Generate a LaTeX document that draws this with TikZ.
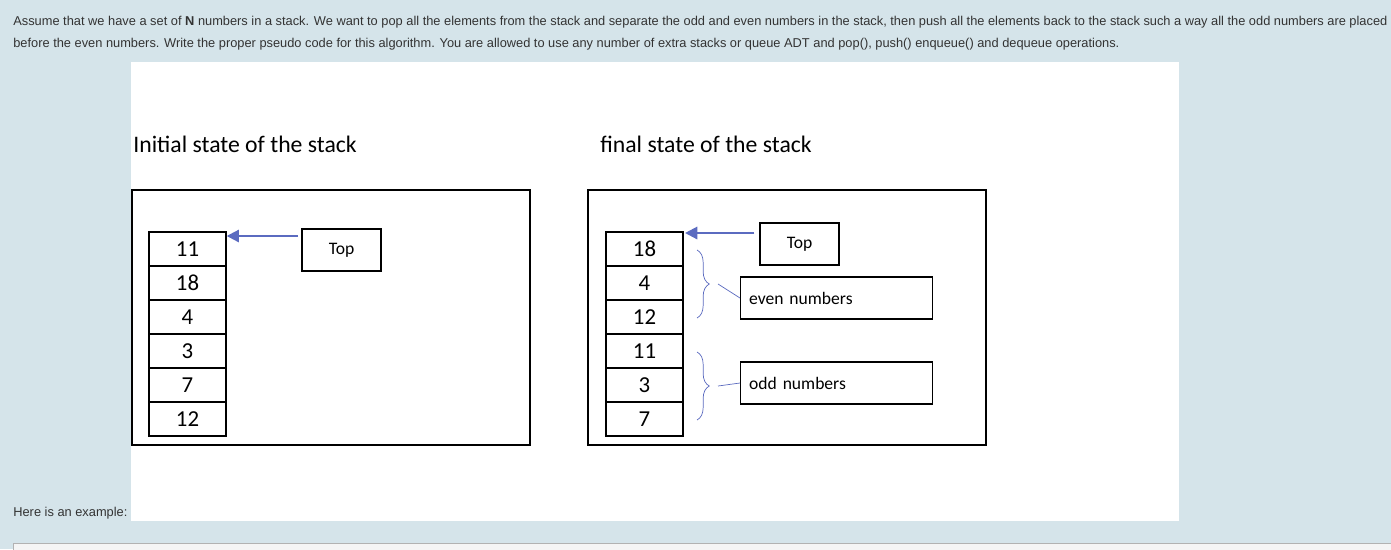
\documentclass[tikz,border=0pt]{standalone}
\usepackage{fontspec}
\setmainfont{Liberation Sans}
\newfontfamily\calib{Carlito}
\usepackage{xcolor}
\usetikzlibrary{positioning,arrows.meta,decorations.pathreplacing}
\definecolor{bgblue}{HTML}{D5E4EA}
\definecolor{txtgray}{HTML}{333333}
\definecolor{arrblue}{HTML}{5B6BC0}
\begin{document}
\begin{tikzpicture}[
  x=0.02cm, y=-0.02cm,
  >={Triangle[length=7pt,width=7pt]},
  cell/.style={draw, thick, rectangle, minimum width=1.54cm, minimum height=0.68cm, inner sep=0pt, font=\calib\fontsize{13}{14}\selectfont},
  label/.style={draw, thick, rectangle, minimum height=0.84cm, inner sep=0pt, font=\calib\fontsize{10}{12}\selectfont},
  frame/.style={draw, thick, rectangle},
  topptr/.style={->, very thick, arrblue},
  grp/.style={decorate, decoration={brace, amplitude=7pt}, arrblue, thin},
  para/.style={anchor=west, inner sep=0pt, text=txtgray, font=\fontsize{7.3}{9}\selectfont}
]
% background
\fill[bgblue] (0,0) rectangle (1391,549);
\useasboundingbox (0,0) rectangle (1391,549);
\fill[white] (131,62) rectangle (1179,521);
\draw[gray!60, fill=gray!8] (13,543) rectangle (1400,560);

% question text
\node[para] (q1) at (13,22) {Assume that we have a set of \textbf{N} numbers in a stack. We want to pop all the elements from the stack and separate the odd and even numbers in the stack, then push all the elements back to the stack such a way all the odd numbers are placed};
\node[para] (q2) at (13,44) {before the even numbers. Write the proper pseudo code for this algorithm. You are allowed to use any number of extra stacks or queue ADT and pop(), push() enqueue() and dequeue operations.};
\node[para] (ex) at (13,513) {Here is an example:};

% titles
\node[anchor=west, inner sep=0pt, font=\calib\fontsize{13.5}{15}\selectfont] (t1) at (133,144) {Initial state of the stack};
\node[anchor=west, inner sep=0pt, font=\calib\fontsize{13.5}{15}\selectfont] (t2) at (600,144) {final state of the stack};

% frames
\draw[frame] (132,190) rectangle (530,445);
\draw[frame] (588,190) rectangle (986,445);

% initial stack
\foreach \v [count=\i] in {11,18,4,3,7,12}
  \node[cell] (a\i) at (187.5,{215+34*\i}) {\v};
\node[label, minimum width=1.58cm] (atop) at (341.5,250) {Top};
\draw[topptr] (298,236) -- (a1.north east |- 0,236);

% final stack
\foreach \v [count=\i] in {18,4,12,11,3,7}
  \node[cell] (b\i) at (644.5,{215+34*\i}) {\v};
\node[label, minimum width=1.58cm] (btop) at (799.5,244) {Top};
\coordinate (bptr) at (685,233);
\draw[topptr] (btop.west |- bptr) ++(-5,0) -- (bptr);

\node[label, minimum width=3.84cm, anchor=west, text width=3.5cm] (even) at (740,298) {even numbers};
\node[label, minimum width=3.84cm, anchor=west, text width=3.5cm] (odd) at (740,383) {odd numbers};
\draw[grp] (697,250) -- (697,318);
\draw[grp] (697,352) -- (697,420);
\draw[arrblue, thin] (718,284) -- (even.west);
\draw[arrblue, thin] (718,386) -- (odd.west);
\end{tikzpicture}
\end{document}
